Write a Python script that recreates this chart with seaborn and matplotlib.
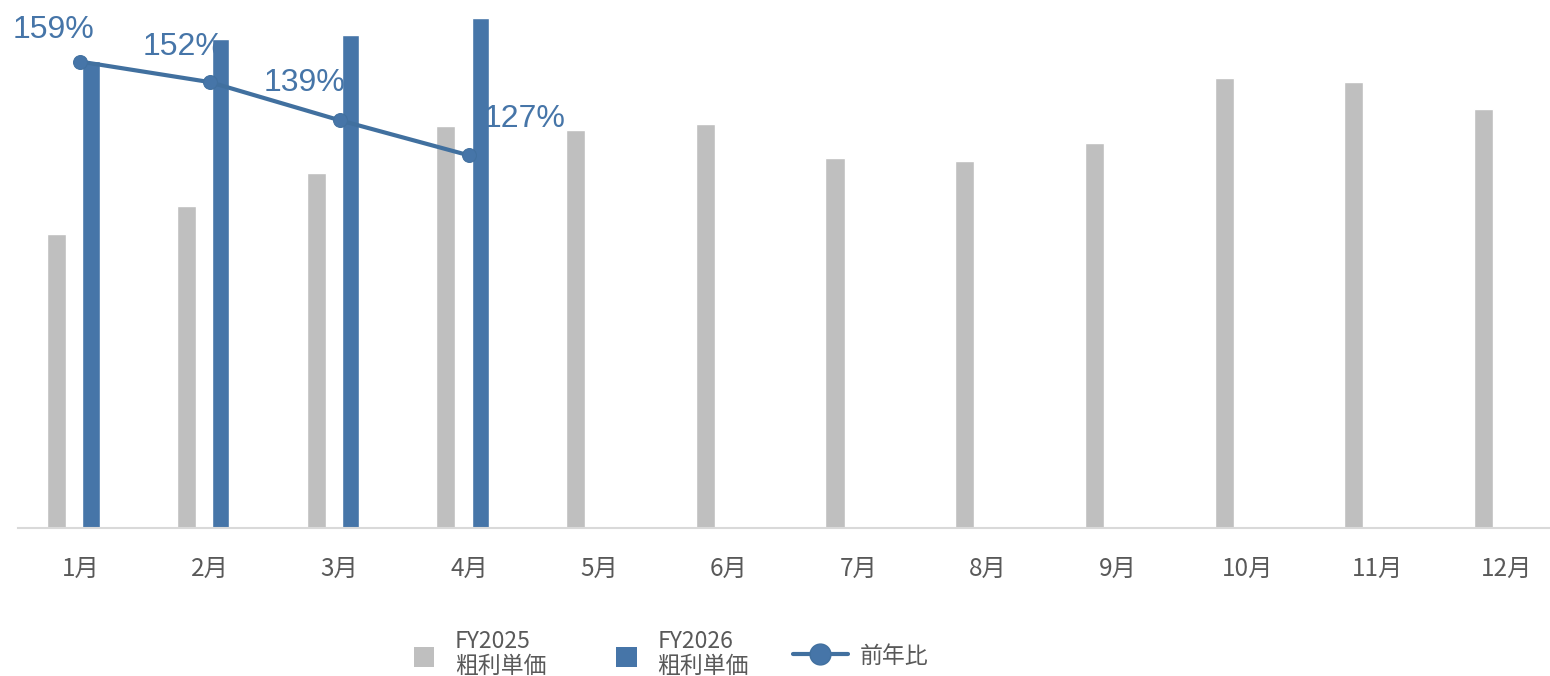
import numpy as np
import pandas as pd
import matplotlib
matplotlib.use("Agg")
import matplotlib.pyplot as plt
import seaborn as sns
from matplotlib.lines import Line2D
from matplotlib.patches import Patch

months = ["1月", "2月", "3月", "4月", "5月", "6月", "7月", "8月", "9月", "10月", "11月", "12月"]
fy2025 = [2940, 3220, 3550, 4020, 3980, 4040, 3700, 3670, 3850, 4500, 4460, 4190]
fy2026 = [4670, 4890, 4930, 5100]
yoy = [159, 152, 139, 127]
legend_labels = ["FY2025\n粗利単価", "FY2026\n粗利単価", "前年比"]

GREY = "#BFBFBF"
BLUE = "#4675A8"
LINE = "#41709F"
TXT = "#595959"

sns.set_theme(style="white")
plt.rcParams["font.family"] = ["Noto Sans CJK JP", "DejaVu Sans"]

fig = plt.figure(figsize=(15.5, 6.76), dpi=100)
ax = fig.add_axes([18 / 1550, 1 - 528 / 676, 1 - 18 / 1550, 528 / 676])

pos = np.arange(len(months))
df25 = pd.DataFrame({"x": pos - 0.181, "y": fy2025})
df26 = pd.DataFrame({"x": pos[:len(fy2026)] + 0.083, "y": fy2026})
sns.barplot(data=df25, x="x", y="y", native_scale=True, width=0.147,
            color=GREY, saturation=1, ax=ax, errorbar=None)
sns.barplot(data=df26, x="x", y="y", native_scale=True, width=0.132,
            color=BLUE, saturation=1, ax=ax, errorbar=None)

ax.set_xlim(-0.48, -0.48 + (1550 - 18) / 129.7)
ax.set_ylim(0, 5280)
ax.set_xticks(pos)
ax.set_xticklabels(months)
ax.set_yticks([])
ax.set_xlabel("")
ax.set_ylabel("")
ax.tick_params(axis="x", length=0, pad=20, labelsize=17.5, colors=TXT)
for s in ["top", "left", "right"]:
    ax.spines[s].set_visible(False)
ax.spines["bottom"].set_color("#D9D9D9")
ax.spines["bottom"].set_linewidth(1.5)

ax2 = ax.twinx()
dfl = pd.DataFrame({"x": pos[:len(yoy)], "y": yoy})
sns.lineplot(data=dfl, x="x", y="y", ax=ax2, color=LINE, linewidth=3,
             marker="o", markersize=10, markeredgecolor=LINE, markerfacecolor=BLUE)
ax2.set_ylim(0, 180)
ax2.set_yticks([])
ax2.set_xlabel("")
ax2.set_ylabel("")
for s in ax2.spines.values():
    s.set_visible(False)

offsets = [(-19, 23), (-19, 25), (-25, 27), (40, 26)]
for xi, v, off in zip(pos, yoy, offsets):
    ax2.annotate(f"{v}%", (xi, v), xytext=off, textcoords="offset points",
                 ha="center", va="center", fontsize=23, color=BLUE,
                 family=["Liberation Sans", "DejaVu Sans"])

handles = [
    Patch(facecolor=GREY, edgecolor="none"),
    Patch(facecolor=BLUE, edgecolor="none"),
    Line2D([0], [0], color=LINE, linewidth=3, marker="o", markersize=15,
           markerfacecolor=BLUE, markeredgecolor=LINE),
]
leg = fig.legend(handles, legend_labels, loc="center",
                 bbox_to_anchor=(658 / 1550, 1 - 654 / 676), ncol=3, frameon=False,
                 fontsize=16.5, handlelength=2.4, handleheight=1.0, columnspacing=1.9,
                 handletextpad=0.55, labelspacing=0.2)
for t in leg.get_texts():
    t.set_color(TXT)
    t.set_linespacing(1.15)
# compact square handles near the text
for h in leg.legend_handles[:2]:
    h.set_width(14.5)
    h.set_height(14.5)
    h.set_x(2.4 * 16.5 - 14.5 - 6)
    h.set_y(h.get_y() - 1)

fig.savefig("out.png", dpi=100)
